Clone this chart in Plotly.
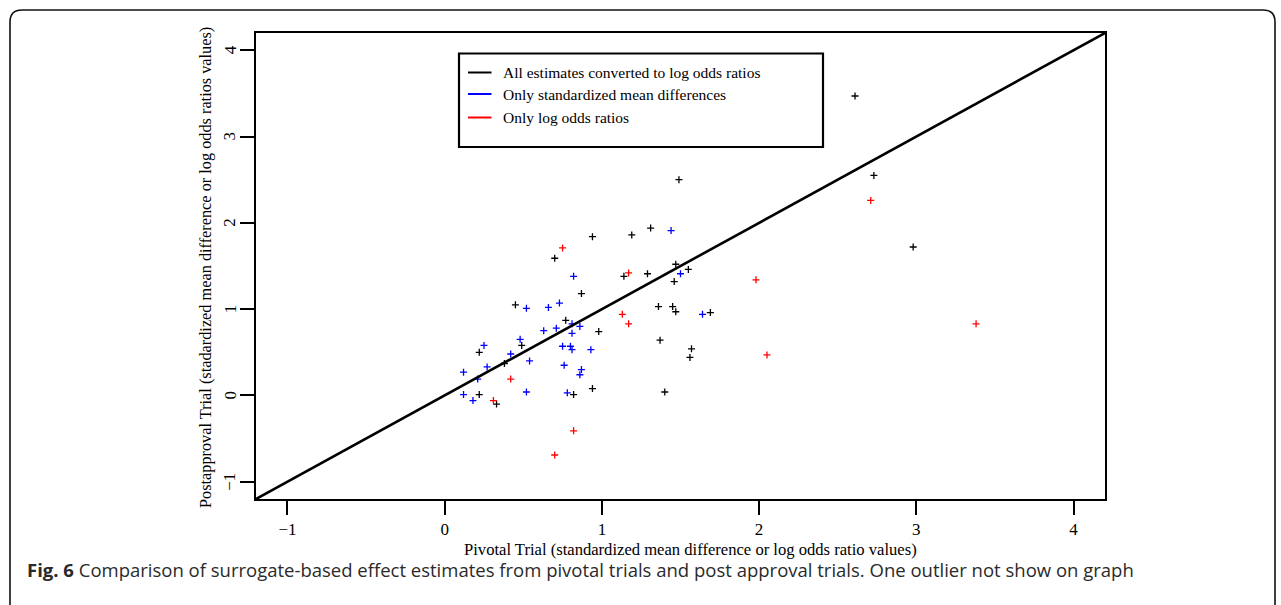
import plotly.graph_objects as go

# ---- data (pivotal x, postapproval y) ----
black_x = [2.61, 2.73, 1.49, 2.98, 0.94, 1.19, 1.31, 0.70, 1.14, 1.29, 1.47, 1.55, 1.46, 0.87, 0.45, 1.36,
           1.45, 1.47, 1.69, 0.77, 0.98, 0.49, 1.37, 1.57, 1.56, 0.22, 0.38, 1.40, 0.94, 0.22, 0.82, 0.33]
black_y = [3.47, 2.55, 2.50, 1.72, 1.84, 1.86, 1.94, 1.59, 1.38, 1.41, 1.52, 1.46, 1.32, 1.18, 1.05, 1.03,
           1.03, 0.97, 0.96, 0.87, 0.74, 0.58, 0.64, 0.54, 0.44, 0.50, 0.37, 0.04, 0.08, 0.01, 0.01, -0.10]
blue_x = [1.44, 0.82, 1.50, 0.52, 0.66, 0.73, 0.81, 0.86, 0.63, 0.71, 0.81, 1.64, 0.48, 0.25, 0.42,
          0.75, 0.80, 0.81, 0.93, 0.54, 0.27, 0.76, 0.87, 0.86, 0.12, 0.21, 0.12, 0.18, 0.52, 0.78]
blue_y = [1.91, 1.38, 1.41, 1.01, 1.02, 1.07, 0.83, 0.80, 0.75, 0.78, 0.72, 0.94, 0.65, 0.58, 0.48,
          0.57, 0.57, 0.53, 0.53, 0.40, 0.33, 0.35, 0.30, 0.24, 0.27, 0.19, 0.01, -0.06, 0.04, 0.03]
red_x = [2.71, 0.75, 1.17, 1.98, 1.13, 1.17, 3.38, 2.05, 0.42, 0.31, 0.82, 0.70]
red_y = [2.26, 1.71, 1.42, 1.34, 0.94, 0.83, 0.83, 0.47, 0.19, -0.06, -0.41, -0.69]

legend_labels = ["All estimates converted to log odds ratios",
                 "Only standardized mean differences",
                 "Only log odds ratios"]
colors = ["#000000", "#0000FF", "#FF0000"]

x_ticks = [-1, 0, 1, 2, 3, 4]
y_ticks = [-1, 0, 1, 2, 3, 4]
axis_range = [-1.2, 4.2]

W, H = 1281, 605
L, R, T, B = 256, 176, 33, 106
PW, PH = W - L - R, H - T - B


def px(x):
    return (x - L) / PW


def py(y):
    return (H - B - y) / PH


def fmt(v):
    return f"{v:g}".replace("-", "\u2212")


serif = "Liberation Serif, Times New Roman, serif"

fig = go.Figure()
for xs, ys, c in [(black_x, black_y, colors[0]), (blue_x, blue_y, colors[1]), (red_x, red_y, colors[2])]:
    fig.add_trace(go.Scatter(x=xs, y=ys, mode="markers", showlegend=False,
                             marker=dict(symbol="cross-thin", size=5,
                                         line=dict(color=c, width=1.3))))

# identity line y = x across the axis range
fig.add_trace(go.Scatter(x=axis_range, y=axis_range, mode="lines", showlegend=False,
                         line=dict(color="black", width=2.6), cliponaxis=True))

shapes = []
annotations = []

# legend box
shapes.append(dict(type="rect", xref="paper", yref="paper",
                   x0=px(459), x1=px(823), y0=py(147), y1=py(53.5),
                   line=dict(color="black", width=2.2), fillcolor="white", layer="above"))
leg_y = [72.5, 94, 117.5]
for lab, c, yy in zip(legend_labels, colors, leg_y):
    shapes.append(dict(type="line", xref="paper", yref="paper",
                       x0=px(468), x1=px(491.5), y0=py(yy), y1=py(yy),
                       line=dict(color=c, width=2), layer="above"))
    annotations.append(dict(text=lab, xref="paper", yref="paper", x=px(501), y=py(yy),
                            xanchor="left", yanchor="middle", showarrow=False,
                            font=dict(family=serif, size=15.5, color="black")))

# rotated y tick labels (R style, parallel to the axis)
for v in y_ticks:
    annotations.append(dict(text=fmt(v), xref="paper", yref="y", x=px(230), y=v, textangle=-90,
                            xanchor="center", yanchor="middle", showarrow=False,
                            font=dict(family=serif, size=17, color="black")))

# axis titles
annotations.append(dict(text="Pivotal Trial (standardized mean difference or log odds ratio values)",
                        xref="paper", yref="paper", x=px(690), y=py(549.5),
                        xanchor="center", yanchor="middle", showarrow=False,
                        font=dict(family=serif, size=16.6, color="black")))
annotations.append(dict(text="Postapproval Trial (stadardized mean difference or log odds ratios values)",
                        xref="paper", yref="paper", x=px(205), y=py(268), textangle=-90,
                        xanchor="center", yanchor="middle", showarrow=False,
                        font=dict(family=serif, size=16.3, color="black")))

# caption
annotations.append(dict(text="<b>Fig. 6</b> Comparison of surrogate-based effect estimates from pivotal trials "
                             "and post approval trials. One outlier not show on graph",
                        xref="paper", yref="paper", x=px(25), y=py(569.5),
                        xanchor="left", yanchor="middle", showarrow=False,
                        font=dict(family="Open Sans, sans-serif", size=18.5, color="#2a2a2a")))

# outer rounded frame
r = 12
x0f, y0f, x1f = px(10), py(10), px(1275)
rx, ry = r / PW, r / PH
ybot = py(640)
path = (f"M {x0f} {ybot} L {x0f} {y0f - ry} Q {x0f} {y0f} {x0f + rx} {y0f} "
        f"L {x1f - rx} {y0f} Q {x1f} {y0f} {x1f} {y0f - ry} L {x1f} {ybot}")
shapes.append(dict(type="path", xref="paper", yref="paper", path=path,
                   line=dict(color="#111", width=1.6)))

axis_common = dict(range=axis_range, autorange=False, showgrid=False, zeroline=False,
                   showline=True, linecolor="black", linewidth=2, mirror=True,
                   ticks="outside", ticklen=14, tickwidth=2, tickcolor="black",
                   tickfont=dict(family=serif, size=17, color="black"), fixedrange=True)

fig.update_layout(
    width=W, height=H,
    margin=dict(l=L, r=R, t=T, b=B, pad=0),
    paper_bgcolor="white", plot_bgcolor="white",
    xaxis=dict(tickvals=x_ticks, ticktext=[fmt(v) for v in x_ticks], **axis_common),
    yaxis=dict(tickvals=y_ticks, showticklabels=False, **axis_common),
    shapes=shapes, annotations=annotations, showlegend=False,
)

fig.write_html("out.html")
